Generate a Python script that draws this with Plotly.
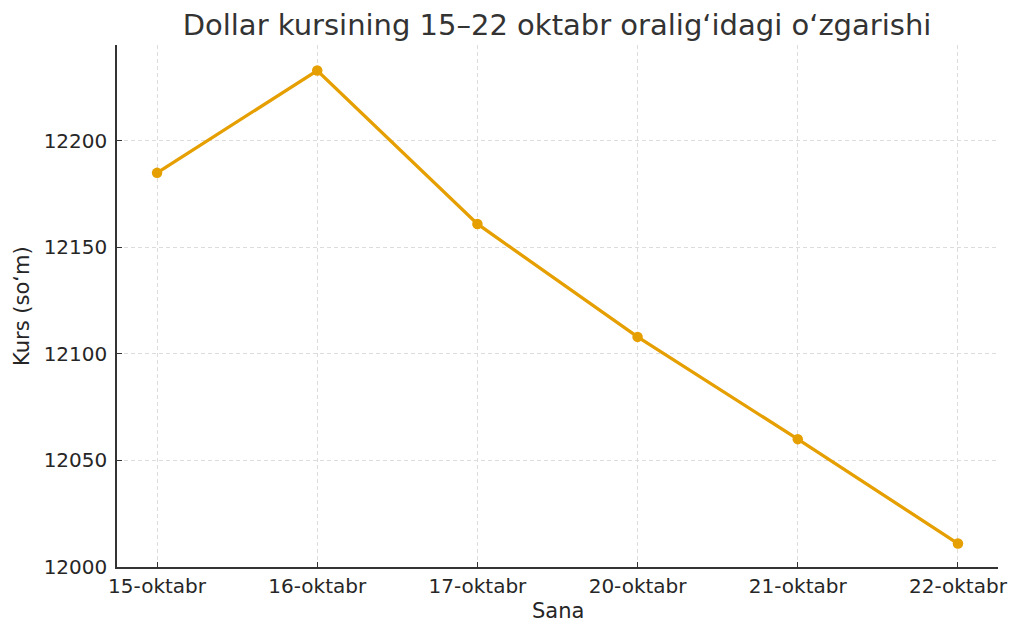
import plotly.graph_objects as go

dates = ["15-oktabr", "16-oktabr", "17-oktabr", "20-oktabr", "21-oktabr", "22-oktabr"]
rates = [12185, 12233, 12161, 12108, 12060, 12011]
y_ticks = [12000, 12050, 12100, 12150, 12200]

title_text = "Dollar kursining 15–22 oktabr oralig‘idagi o‘zgarishi"
x_title = "Sana"
y_title = "Kurs (so‘m)"

color = "#E69F00"
font = "DejaVu Sans"

fig = go.Figure()
fig.add_trace(go.Scatter(
    x=list(range(len(dates))), y=rates, mode="lines+markers",
    line=dict(color=color, width=3.3),
    marker=dict(color=color, size=10.5),
    showlegend=False,
))

# page body has an 8px margin, so compensate
fig.update_layout(
    width=1024, height=637,
    paper_bgcolor="white", plot_bgcolor="white",
    margin=dict(l=109, r=34, t=37, b=78),
    font=dict(family=font, size=20, color="#262626"),
    title=dict(text=title_text, xref="container", x=549 / 1024, xanchor="center",
               yref="container", y=1 - 17 / 637, yanchor="middle",
               font=dict(family=font, size=29, color="#333333")),
)

fig.add_annotation(text=x_title, xref="paper", yref="paper", x=0.5, y=-(611 - 567) / 522,
                   xanchor="center", yanchor="middle", showarrow=False,
                   font=dict(family=font, size=21, color="#262626"))
fig.add_annotation(text=y_title, xref="paper", yref="paper", x=-(117 - 22) / 881, y=0.5,
                   xanchor="center", yanchor="middle", showarrow=False, textangle=-90,
                   font=dict(family=font, size=21, color="#262626"))

fig.update_xaxes(
    tickmode="array", tickvals=list(range(len(dates))), ticktext=dates,
    range=[-0.25, 5.25], automargin=False,
    showline=True, linecolor="#333333", linewidth=1.5,
    ticks="inside", ticklen=5, tickcolor="#333333", tickwidth=1.2,
    showgrid=True, gridcolor="#dcdcdc", griddash="4px,3px", gridwidth=1,
    zeroline=False,
    tickfont=dict(size=20),
)
fig.update_yaxes(
    tickmode="array", tickvals=y_ticks, ticktext=[str(v) for v in y_ticks],
    range=[12000, 12245], automargin=False,
    showline=True, linecolor="#333333", linewidth=1.5,
    ticks="inside", ticklen=5, tickcolor="#333333", tickwidth=1.2,
    showgrid=True, gridcolor="#dcdcdc", griddash="4px,3px", gridwidth=1,
    zeroline=False,
    tickfont=dict(size=20), ticklabelstandoff=4,
)

fig.write_html("out.html")
